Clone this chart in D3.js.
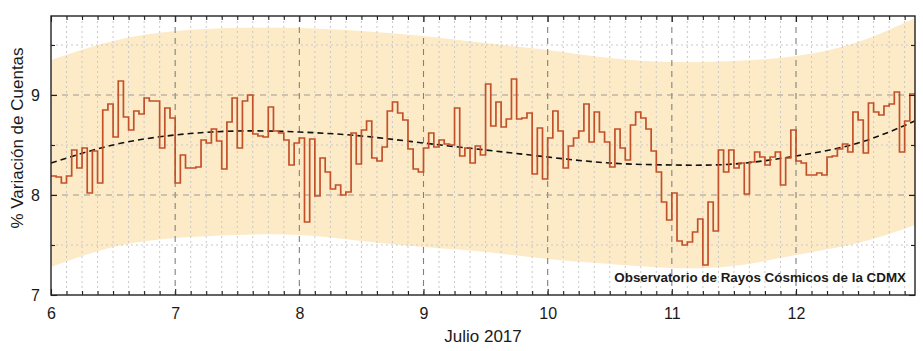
<!DOCTYPE html>
<html>
<head>
<meta charset="utf-8">
<script src="https://cdn.jsdelivr.net/npm/d3@7"></script>
<style>
  body { margin: 0; background: #fff; }
  text { font-family: "Liberation Sans", Arial, sans-serif; fill: #1a1a1a; }
</style>
</head>
<body>
<div id="chart"></div>
<script>
// hourly % variation, starting July 6 00:00
const startDay = 6;
const hourlyValues = [
  // day 6
  8.19, 8.18, 8.12, 8.19, 8.45, 8.27, 8.47, 8.02, 8.44, 8.12, 8.85, 8.91,
  8.58, 9.14, 8.78, 8.65, 8.84, 8.81, 8.97, 8.94, 8.94, 8.47, 8.87, 8.77,
  // day 7
  8.12, 8.40, 8.27, 8.27, 8.28, 8.55, 8.52, 8.66, 8.54, 8.26, 8.73, 8.97,
  8.47, 8.94, 9.00, 8.61, 8.59, 8.58, 8.88, 8.64, 8.62, 8.55, 8.30, 8.52,
  // day 8
  8.57, 7.73, 8.56, 7.99, 8.37, 8.23, 8.06, 8.10, 8.00, 8.03, 8.62, 8.31,
  8.65, 8.74, 8.37, 8.34, 8.48, 8.84, 8.93, 8.82, 8.75, 8.46, 8.26, 8.23,
  // day 9
  8.47, 8.62, 8.48, 8.55, 8.51, 8.50, 8.87, 8.39, 8.47, 8.32, 8.49, 8.40,
  9.11, 8.69, 8.93, 8.68, 8.76, 9.16, 8.76, 8.77, 8.82, 8.21, 8.67, 8.16,
  // day 10
  8.57, 8.84, 8.64, 8.27, 8.49, 8.57, 8.64, 8.91, 8.53, 8.83, 8.63, 8.53,
  8.28, 8.66, 8.47, 8.35, 8.70, 8.83, 8.77, 8.66, 8.44, 8.23, 7.93, 7.75,
  // day 11
  8.02, 7.54, 7.50, 7.53, 7.63, 7.76, 7.30, 7.93, 7.64, 8.45, 8.23, 8.45,
  8.27, 8.32, 8.01, 8.33, 8.43, 8.38, 8.30, 8.38, 8.43, 8.10, 8.37, 8.65,
  // day 12
  8.34, 8.32, 8.20, 8.20, 8.22, 8.20, 8.38, 8.39, 8.46, 8.51, 8.43, 8.83,
  8.75, 8.42, 8.92, 8.83, 8.80, 8.89, 8.91, 9.03, 8.43, 8.74, 9.01, 8.48
];

// smooth trend and its band
const trendDays   = [6, 6.5, 7, 7.5, 8, 8.5, 9, 9.5, 10, 10.5, 11, 11.5, 12, 12.5, 12.958];
const trendValues = [8.32, 8.50, 8.60, 8.64, 8.63, 8.59, 8.52, 8.45, 8.38, 8.32, 8.30, 8.31, 8.39, 8.52, 8.74];
const bandUpper   = [9.35, 9.54, 9.64, 9.67, 9.67, 9.64, 9.59, 9.52, 9.45, 9.37, 9.33, 9.34, 9.39, 9.53, 9.77];
const bandLower   = [7.28, 7.48, 7.57, 7.60, 7.60, 7.54, 7.48, 7.43, 7.36, 7.31, 7.27, 7.29, 7.40, 7.52, 7.70];

const dayTicks = [6, 7, 8, 9, 10, 11, 12];
const valueTicks = [7, 8, 9];
const xLabel = "Julio 2017";
const yLabel = "% Variación de Cuentas";
const creditText = "Observatorio de Rayos Cósmicos de la CDMX";

const W = 923, H = 351;
const margin = {top: 16, right: 8, bottom: 56, left: 51};
const width = W - margin.left - margin.right;
const height = H - margin.top - margin.bottom;

const svg = d3.select("#chart").append("svg")
  .attr("width", W)
  .attr("height", H);

const g = svg.append("g")
  .attr("transform", `translate(${margin.left},${margin.top})`);

const lastDay = startDay + (hourlyValues.length - 1) / 24;
const x = d3.scaleLinear().domain([startDay, lastDay]).range([0, width]);
const y = d3.scaleLinear().domain([7, 9.79]).range([height, 0]);

const minorX = d3.range(0, Math.round((lastDay - startDay) * 8) + 1)
  .map(i => startDay + i / 8)
  .filter(d => !Number.isInteger(d));
const minorY = [7.5, 8.5, 9.5];

g.append("defs").append("clipPath").attr("id", "clip")
  .append("rect").attr("width", width).attr("height", height);

// band
const bandData = trendDays.map((d, i) => ({d: d, lo: bandLower[i], hi: bandUpper[i]}));
g.append("path")
  .datum(bandData)
  .attr("fill", "#fdebc8")
  .attr("d", d3.area()
    .x(d => x(d.d))
    .y0(d => y(d.lo))
    .y1(d => y(d.hi))
    .curve(d3.curveNatural));

// grid
const grid = g.append("g");
grid.selectAll(".vminor").data(minorX).join("line")
  .attr("x1", d => x(d)).attr("x2", d => x(d))
  .attr("y1", 0).attr("y2", height)
  .attr("stroke", "#c8c8c8").attr("stroke-width", 1)
  .attr("stroke-dasharray", "2,3");
grid.selectAll(".hminor").data(minorY).join("line")
  .attr("x1", 0).attr("x2", width)
  .attr("y1", d => y(d)).attr("y2", d => y(d))
  .attr("stroke", "#c8c8c8").attr("stroke-width", 1)
  .attr("stroke-dasharray", "2,3");
grid.selectAll(".vmajor").data(dayTicks.slice(1)).join("line")
  .attr("x1", d => x(d)).attr("x2", d => x(d))
  .attr("y1", 0).attr("y2", height)
  .attr("stroke", "#808080").attr("stroke-width", 1.1)
  .attr("stroke-dasharray", "6,5");
grid.selectAll(".hmajor").data(valueTicks.slice(1)).join("line")
  .attr("x1", 0).attr("x2", width)
  .attr("y1", d => y(d)).attr("y2", d => y(d))
  .attr("stroke", "#a09a90").attr("stroke-width", 1.1)
  .attr("stroke-dasharray", "6,5");

// trend
g.append("path")
  .datum(trendDays.map((d, i) => [d, trendValues[i]]))
  .attr("fill", "none")
  .attr("stroke", "#111")
  .attr("stroke-width", 1.6)
  .attr("stroke-dasharray", "6,4")
  .attr("d", d3.line().x(d => x(d[0])).y(d => y(d[1])).curve(d3.curveNatural));

// hourly step line
g.append("path")
  .datum(hourlyValues.map((v, i) => [startDay + i / 24, v]))
  .attr("clip-path", "url(#clip)")
  .attr("fill", "none")
  .attr("stroke", "#c2502a")
  .attr("stroke-width", 1.7)
  .attr("d", d3.line().x(d => x(d[0])).y(d => y(d[1])).curve(d3.curveStepAfter));

// axes with inward ticks on all sides
function styleAxis(sel) {
  sel.select(".domain").remove();
  sel.selectAll(".tick line").attr("stroke", "#222").attr("stroke-width", 1.1);
  sel.selectAll("text").attr("font-size", 16).attr("fill", "#1a1a1a");
}

g.append("g").attr("transform", `translate(0,${height})`)
  .call(d3.axisBottom(x).tickValues(dayTicks).tickSize(-6).tickPadding(13).tickFormat(d3.format("d")))
  .call(styleAxis);
g.append("g").attr("transform", `translate(0,${height})`)
  .call(d3.axisBottom(x).tickValues(minorX).tickSize(-4).tickFormat(""))
  .call(styleAxis);
g.append("g")
  .call(d3.axisTop(x).tickValues(dayTicks).tickSize(-6).tickFormat(""))
  .call(styleAxis);
g.append("g")
  .call(d3.axisTop(x).tickValues(minorX).tickSize(-4).tickFormat(""))
  .call(styleAxis);
g.append("g")
  .call(d3.axisLeft(y).tickValues(valueTicks).tickSize(-6).tickPadding(11).tickFormat(d3.format("d")))
  .call(styleAxis);
g.append("g")
  .call(d3.axisLeft(y).tickValues(minorY).tickSize(-4).tickFormat(""))
  .call(styleAxis);
g.append("g").attr("transform", `translate(${width},0)`)
  .call(d3.axisRight(y).tickValues(valueTicks).tickSize(-6).tickFormat(""))
  .call(styleAxis);
g.append("g").attr("transform", `translate(${width},0)`)
  .call(d3.axisRight(y).tickValues(minorY).tickSize(-4).tickFormat(""))
  .call(styleAxis);

// frame
g.append("rect")
  .attr("width", width).attr("height", height)
  .attr("fill", "none").attr("stroke", "#222").attr("stroke-width", 1.4);

// credit
g.append("text")
  .attr("x", width - 9)
  .attr("y", height - 13)
  .attr("text-anchor", "end")
  .attr("font-size", 13.4)
  .attr("font-weight", "bold")
  .text(creditText);

// labels
svg.append("text")
  .attr("x", margin.left + width / 2)
  .attr("y", 342)
  .attr("text-anchor", "middle")
  .attr("font-size", 17)
  .text(xLabel);

svg.append("text")
  .attr("transform", "translate(23,138) rotate(-90)")
  .attr("text-anchor", "middle")
  .attr("font-size", 17)
  .text(yLabel);
</script>
</body>
</html>
